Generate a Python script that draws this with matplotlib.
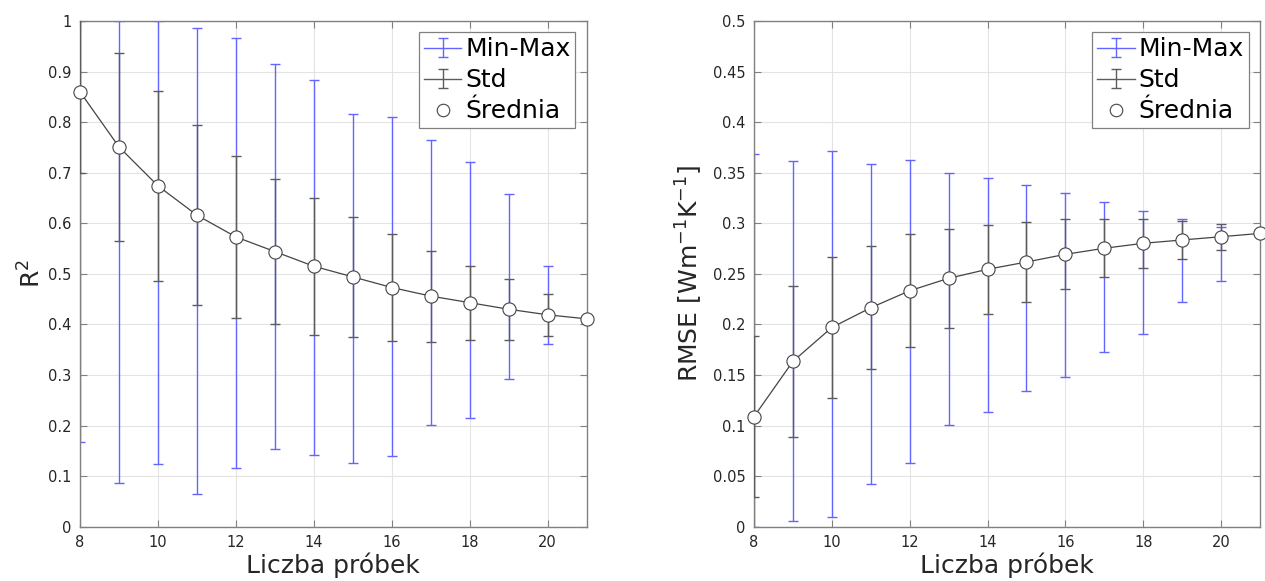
import numpy as np
import matplotlib
matplotlib.use("Agg")
import matplotlib.pyplot as plt
from matplotlib.ticker import MultipleLocator, FuncFormatter
from matplotlib.legend_handler import HandlerErrorbar
from matplotlib.lines import Line2D

plt.rcParams['font.family'] = ['DejaVu Sans']

# liczba probek
n = [8, 9, 10, 11, 12, 13, 14, 15, 16, 17, 18, 19, 20, 21]

# R^2
r2_mean = [0.860, 0.751, 0.674, 0.616, 0.573, 0.544, 0.515, 0.494, 0.473, 0.456, 0.443, 0.430, 0.419, 0.411]
r2_std = [0.160, 0.186, 0.188, 0.178, 0.161, 0.144, 0.135, 0.119, 0.106, 0.090, 0.073, 0.060, 0.041, 0.0]
r2_min = [0.168, 0.086, 0.123, 0.064, 0.117, 0.154, 0.141, 0.125, 0.140, 0.202, 0.214, 0.293, 0.361, 0.411]
r2_max = [1.000, 1.000, 1.000, 0.986, 0.966, 0.915, 0.883, 0.816, 0.810, 0.764, 0.722, 0.658, 0.516, 0.411]

# RMSE
rm_mean = [0.1088, 0.1635, 0.197, 0.2165, 0.2333, 0.2456, 0.2545, 0.2617, 0.2693, 0.2753, 0.2802, 0.2835, 0.2867, 0.290]
rm_std = [0.0795, 0.0747, 0.0695, 0.061, 0.0557, 0.049, 0.044, 0.040, 0.0347, 0.0285, 0.024, 0.0185, 0.013, 0.0]
rm_min = [0.0, 0.0053, 0.0096, 0.0422, 0.0633, 0.1009, 0.1137, 0.1345, 0.1483, 0.1727, 0.1908, 0.2219, 0.2429, 0.290]
rm_max = [0.3685, 0.3616, 0.3715, 0.3583, 0.3629, 0.3497, 0.3448, 0.3381, 0.3302, 0.321, 0.3124, 0.3045, 0.2966, 0.290]

BLUE = '#6464ff'
GRAY = '#5c5c5c'
TXT = '#262626'


class HandlerBar(HandlerErrorbar):
    # errorbar z fmt='none' -> w legendzie i tak pozioma kreska jak w matlabie
    def create_artists(self, legend, orig_handle, xdescent, ydescent, width,
                       height, fontsize, trans):
        arts = super().create_artists(legend, orig_handle, xdescent, ydescent,
                                      width, height, fontsize, trans)
        kolor = orig_handle[2][0].get_color()[0]
        for a in arts:
            if isinstance(a, Line2D) and not a.get_visible() and len(a.get_xdata()) == 2:
                a.set_visible(True)
                a.set_color(kolor)
                a.set_linestyle('-')
                a.set_linewidth(1)
                a.set_marker('None')
        return arts


fig = plt.figure(figsize=(12.65, 5.81), dpi=100)
ax1 = fig.add_axes([80/1265, 54.3/581, 506.7/1265, 505.7/581])
ax2 = fig.add_axes([754/1265, 54.3/581, 506/1265, 505.7/581])


def rysuj(ax, mean, std, mn, mx, ylim, ystep, ylabel, lpad):
    mean = np.array(mean); std = np.array(std)
    mn = np.array(mn); mx = np.array(mx)
    h1 = ax.errorbar(n, mean, yerr=[mean - mn, mx - mean], fmt='none', ecolor=BLUE,
                     elinewidth=1, capsize=3.5, capthick=1, zorder=2)
    h2 = ax.errorbar(n, mean, yerr=std, fmt='none', ecolor=GRAY,
                     elinewidth=1, capsize=3.5, capthick=1, zorder=3)
    h3, = ax.plot(n, mean, '-o', color='#444444', lw=0.9, ms=9.5, mfc='white',
                  mec='#444444', mew=0.8, zorder=4, clip_on=False)
    ax.set_xlim(8, 21)
    ax.set_ylim(*ylim)
    ax.xaxis.set_major_locator(MultipleLocator(2))
    ax.yaxis.set_major_locator(MultipleLocator(ystep))
    ax.yaxis.set_major_formatter(FuncFormatter(lambda v, p: '%g' % round(v, 4)))
    ax.grid(True, color='#e3e3e3', lw=0.8, zorder=0)
    ax.set_axisbelow(True)
    for s in ax.spines.values():
        s.set_color('#808080')
        s.set_linewidth(1)
    ax.tick_params(direction='in', length=5, width=0.8, color='#808080',
                   top=True, right=True, labelsize=10.5, labelcolor=TXT, pad=6)
    ax.set_xlabel(u"Liczba próbek", fontsize=18, color=TXT, labelpad=2)
    ax.set_ylabel(ylabel, fontsize=18, color=TXT, labelpad=lpad)
    # tylko kolko w legendzie dla sredniej
    h3_leg = Line2D([], [], linestyle='None', marker='o', ms=9, mfc='white',
                    mec='#444444', mew=0.8)
    leg = ax.legend([h1, h2, h3_leg], ['Min-Max', 'Std', u'Średnia'], loc='upper right',
                    fontsize=18, handlelength=1.5, handletextpad=0.15,
                    labelspacing=0.28, borderpad=0.2, borderaxespad=0.45,
                    fancybox=False, framealpha=1, edgecolor='#808080',
                    handler_map={type(h1): HandlerBar(xerr_size=0.38)})
    leg.get_frame().set_linewidth(0.9)


rysuj(ax1, r2_mean, r2_std, r2_min, r2_max, (0, 1), 0.1, r"R$^2$", 2)
rysuj(ax2, rm_mean, rm_std, rm_min, rm_max, (0, 0.5), 0.05, r"RMSE [Wm$^{-1}$K$^{-1}$]", 6)

plt.savefig("out.png", dpi=100)
